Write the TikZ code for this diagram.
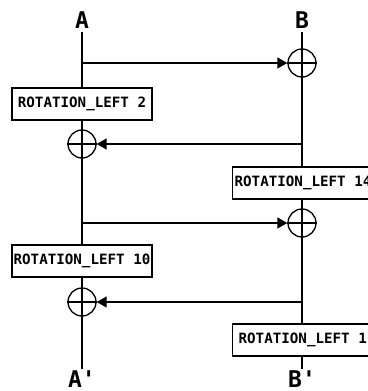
\documentclass[tikz,border=0pt]{standalone}
\usepackage{fontspec}
\setmonofont{DejaVu Sans Mono}
\usetikzlibrary{arrows.meta}
\begin{document}
\begin{tikzpicture}[x=1pt,y=-1pt,
  wire/.style={line width=1.3pt},
  feed/.style={wire,-{Triangle[length=10pt,width=11pt]}},
  rotbox/.style={draw,line width=1.3pt,minimum height=32pt,inner ysep=0pt,
    font=\fontsize{14.2}{14}\selectfont\ttfamily\bfseries},
  xorop/.style={circle,draw,line width=1.3pt,minimum size=28pt,inner sep=0pt},
  port/.style={font=\fontsize{23}{23}\selectfont\ttfamily\bfseries,inner sep=0pt}]
\useasboundingbox (0,0) rectangle (367,391);
% inputs and outputs
\node[port] (A) at (82,20) {A};
\node[port] (B) at (302,20) {B};
\node[port] (Ao) at (82,379) {A'};
\node[port] (Bo) at (302,379) {B'};
% rotations
\node[rotbox,minimum width=140pt,inner xsep=0pt] (r1) at (82,104) {ROTATION\_LEFT 2};
\node[rotbox,anchor=west,inner xsep=2pt,minimum width=140pt,align=left] (r2) at (232,183) {ROTATION\_LEFT 14};
\node[rotbox,minimum width=140pt,inner xsep=0pt] (r3) at (82,261) {ROTATION\_LEFT 10};
\node[rotbox,anchor=west,inner xsep=6pt,minimum width=140pt] (r4) at (232,340) {ROTATION\_LEFT 1};
% xor nodes
\node[xorop] (x1) at (302,63) {};
\node[xorop] (x2) at (82,144) {};
\node[xorop] (x3) at (302,223) {};
\node[xorop] (x4) at (82,302) {};
\foreach \n in {x1,x2,x3,x4}
  \draw[wire] (\n.west) -- (\n.east) (\n.north) -- (\n.south);
% branch points
\coordinate (a1) at (82,63);
\coordinate (b2) at (302,144);
\coordinate (a3) at (82,223);
\coordinate (b4) at (302,302);
\coordinate (aend) at (82,369);
\coordinate (bend) at (302,369);
% left wire
\draw[wire] (82,32) -- (r1.north);
\draw[wire] (r1.south) -- (x2.north);
\draw[wire] (x2.south) -- (r3.north);
\draw[wire] (r3.south) -- (x4.north);
\draw[wire] (x4.south) -- (aend);
% right wire
\draw[wire] (302,32) -- (x1.north);
\draw[wire] (x1.south) -- (302,167);
\draw[wire] (302,199) -- (x3.north);
\draw[wire] (x3.south) -- (302,324);
\draw[wire] (302,356) -- (bend);
% feeds
\draw[feed] (a1) -- (x1.west);
\draw[feed] (b2) -- (x2.east);
\draw[feed] (a3) -- (x3.west);
\draw[feed] (b4) -- (x4.east);
\end{tikzpicture}
\end{document}
